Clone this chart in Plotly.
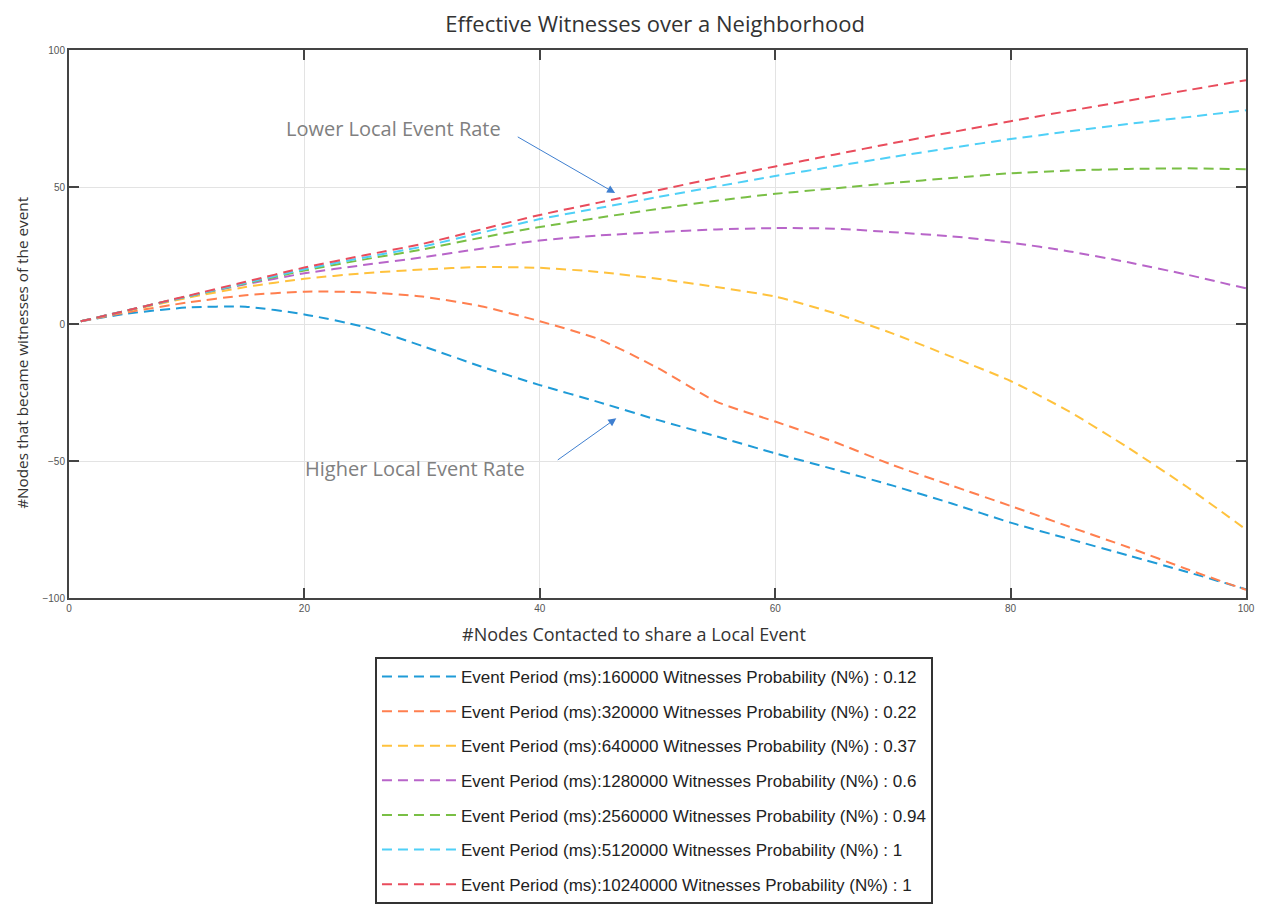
import plotly.graph_objects as go

x_nodes = [1, 5, 10, 15, 20, 25, 30, 35, 40, 45, 50, 55, 60, 65, 70, 75, 80, 85, 90, 95, 100]

p012 = [1.0, 3.8, 6.0, 6.3, 3.5, -1.0, -8.0, -15.5, -22.3, -28.5, -35.0, -41.0, -47.2, -53.0, -59.0, -65.5, -72.5, -78.5, -84.5, -90.5, -96.8]
p022 = [1.0, 4.3, 7.8, 10.5, 11.8, 11.6, 10.0, 6.5, 1.0, -5.5, -16.0, -28.3, -35.6, -43.0, -51.5, -59.0, -66.4, -74.0, -81.5, -89.5, -97.0]
p037 = [1.0, 4.8, 9.5, 13.5, 16.5, 18.5, 19.9, 20.8, 20.5, 19.0, 16.5, 13.5, 10.0, 4.0, -3.5, -12.0, -20.8, -32.0, -45.2, -59.5, -75.0]
p060 = [1.0, 5.0, 10.0, 14.5, 18.5, 21.5, 24.3, 27.5, 30.5, 32.3, 33.5, 34.5, 35.0, 34.8, 33.5, 32.0, 29.7, 26.5, 22.5, 18.0, 13.0]
p094 = [1.0, 5.0, 10.0, 14.8, 19.5, 23.5, 27.2, 31.5, 35.4, 38.8, 42.0, 45.0, 47.5, 49.5, 51.5, 53.3, 55.0, 56.0, 56.6, 56.8, 56.5]
p100a = [1.0, 5.0, 10.0, 15.0, 20.0, 24.2, 28.2, 33.3, 38.3, 42.3, 46.3, 50.2, 54.0, 57.5, 61.0, 64.3, 67.5, 70.3, 73.0, 75.5, 78.0]
p100b = [1.0, 5.0, 10.2, 15.4, 20.6, 25.0, 29.2, 34.5, 39.8, 44.3, 48.8, 53.3, 57.5, 61.8, 66.0, 70.0, 74.0, 77.8, 81.5, 85.3, 89.0]

series_names = [
    "Event Period (ms):160000 Witnesses Probability (N%) : 0.12",
    "Event Period (ms):320000 Witnesses Probability (N%) : 0.22",
    "Event Period (ms):640000 Witnesses Probability (N%) : 0.37",
    "Event Period (ms):1280000 Witnesses Probability (N%) : 0.6",
    "Event Period (ms):2560000 Witnesses Probability (N%) : 0.94",
    "Event Period (ms):5120000 Witnesses Probability (N%) : 1",
    "Event Period (ms):10240000 Witnesses Probability (N%) : 1",
]
series_values = [p012, p022, p037, p060, p094, p100a, p100b]
series_colors = ["#1f9bd7", "#ff7f4f", "#ffc23d", "#b865c9", "#79bf45", "#4fd0f7", "#e94c5c"]

fig = go.Figure()
for i, (name, vals, col) in enumerate(zip(series_names, series_values, series_colors)):
    fig.add_trace(go.Scatter(
        x=x_nodes, y=vals, mode="lines", name=name,
        line=dict(color=col, width=2, dash="10px,6px", shape="spline", smoothing=0.6),
        legendgroup=f"g{i}",
    ))

axis_common = dict(
    showline=True, mirror="ticks", linecolor="#444", linewidth=2,
    ticks="inside", ticklen=10, tickwidth=1.5, tickcolor="#444",
    showgrid=True, gridcolor="#e3e3e3", gridwidth=1, zeroline=False,
    tickfont=dict(family="Liberation Sans", size=10, color="#555"),
)

W, H = 1255, 901
fig.update_layout(
    width=W, height=H,
    paper_bgcolor="white", plot_bgcolor="white",
    margin=dict(l=61, r=17, t=42, b=311, autoexpand=False),
    title=dict(text="Effective Witnesses over a Neighborhood", xref="paper", x=0.498, xanchor="center",
               y=1 - 16 / H, yanchor="middle",
               font=dict(family="Open Sans", size=22, color="#333")),
    xaxis=dict(range=[0, 100], tickvals=[0, 20, 40, 60, 80, 100], **axis_common),
    yaxis=dict(range=[-100, 100], tickvals=[-100, -50, 0, 50, 100], **axis_common),
    legend=dict(x=0.497, xanchor="center", y=-0.1077, yanchor="top",
                bgcolor="white", bordercolor="#333", borderwidth=2,
                font=dict(family="Liberation Sans", size=17, color="#222"),
                itemwidth=74, tracegroupgap=9.5),
    showlegend=True,
)

fig.add_annotation(text="#Nodes Contacted to share a Local Event", xref="paper", yref="paper",
                   x=0.48, y=-0.0657, xanchor="center", yanchor="middle", showarrow=False,
                   font=dict(family="Open Sans", size=18, color="#333"))
fig.add_annotation(text="#Nodes that became witnesses of the event", xref="paper", yref="paper",
                   x=-0.04, y=0.449, xanchor="center", yanchor="middle", showarrow=False, textangle=-90,
                   font=dict(family="Open Sans", size=15.3, color="#333"))

fig.add_annotation(text="Lower Local Event Rate", x=27.6, y=71.2, showarrow=False,
                   font=dict(family="Open Sans", size=20, color="#808080"))
fig.add_annotation(text="Higher Local Event Rate", x=29.4, y=-52.9, showarrow=False,
                   font=dict(family="Open Sans", size=20, color="#808080"))
fig.add_annotation(text="", x=46.4, y=47.8, ax=38.0, ay=68.6, axref="x", ayref="y",
                   showarrow=True, arrowhead=2, arrowsize=1.6, arrowwidth=1,
                   arrowcolor="#3f7fd0", standoff=0, startstandoff=0)
fig.add_annotation(text="", x=46.5, y=-34.4, ax=41.4, ay=-50.0, axref="x", ayref="y",
                   showarrow=True, arrowhead=2, arrowsize=1.6, arrowwidth=1,
                   arrowcolor="#3f7fd0", standoff=0, startstandoff=0)

fig.write_html("out.html")
